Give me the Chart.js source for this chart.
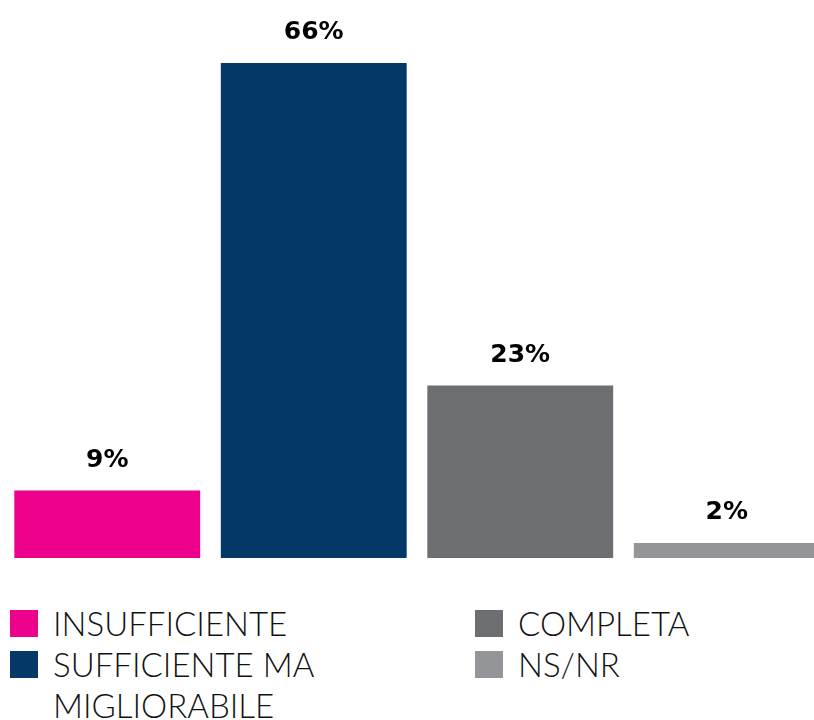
<!DOCTYPE html>
<html>
<head>
<meta charset="utf-8">
<script src="https://cdn.jsdelivr.net/npm/chart.js@4.4.0/dist/chart.umd.min.js"></script>
<style>
    html, body { margin: 0; padding: 0; background: #fff; }
    body { width: 814px; height: 720px; overflow: hidden; position: relative; }
    #wrap { position: absolute; left: 0; top: 0; width: 830px; height: 580px; }
    .legend { position: absolute; font-family: Lato, "Open Sans", sans-serif; font-weight: 300;
              font-size: 33px; line-height: 41px; color: #111; }
    .legend .item { display: flex; align-items: flex-start; }
    .legend .sw { width: 28px; height: 27px; flex: none; margin-top: 7px; margin-right: 15px; }
</style>
</head>
<body>
<div id="wrap"><canvas id="my-chart" width="830" height="580"></canvas></div>
<div id="legend-left" class="legend" style="left:10px; top:603px; width:420px;"></div>
<div id="legend-right" class="legend" style="left:475px; top:603px; width:330px;"></div>
<script>
const categories = ['INSUFFICIENTE', 'SUFFICIENTE MA MIGLIORABILE', 'COMPLETA', 'NS/NR'];
const values = [9, 66, 23, 2];
const colors = ['#ec008c', '#043866', '#6d6e71', '#939598'];

// legend in two columns, drawn as plain html
const legendCols = [[0, 1], [2, 3]];
['legend-left', 'legend-right'].forEach(function (id, c) {
    const box = document.getElementById(id);
    legendCols[c].forEach(function (i) {
        const row = document.createElement('div');
        row.className = 'item';
        const sw = document.createElement('span');
        sw.className = 'sw';
        sw.style.background = colors[i];
        const txt = document.createElement('span');
        txt.textContent = categories[i];
        row.appendChild(sw);
        row.appendChild(txt);
        box.appendChild(row);
    });
});

const valueLabels = {
    id: 'valueLabels',
    afterDatasetsDraw(chart) {
        const ctx = chart.ctx;
        const meta = chart.getDatasetMeta(0);
        ctx.save();
        ctx.font = 'bold 25px "DejaVu Sans", sans-serif';
        ctx.fillStyle = '#000';
        ctx.textAlign = 'center';
        ctx.textBaseline = 'alphabetic';
        meta.data.forEach(function (bar, i) {
            ctx.fillText(values[i] + '%', bar.x, bar.y - 24);
        });
        ctx.restore();
    }
};

const ctx = document.getElementById('my-chart').getContext('2d');
new Chart(ctx, {
    type: 'bar',
    data: {
        labels: categories,
        datasets: [{
            data: values,
            backgroundColor: colors,
            borderWidth: 0,
            barPercentage: 0.9,
            categoryPercentage: 1
        }]
    },
    options: {
        responsive: false,
        animation: false,
        layout: { padding: { left: 4, right: 0, top: 33, bottom: 22 } },
        scales: {
            x: { display: false },
            y: { display: false, min: 0, max: 70 }
        },
        plugins: {
            legend: { display: false },
            tooltip: { enabled: false }
        }
    },
    plugins: [valueLabels]
});
</script>
</body>
</html>
